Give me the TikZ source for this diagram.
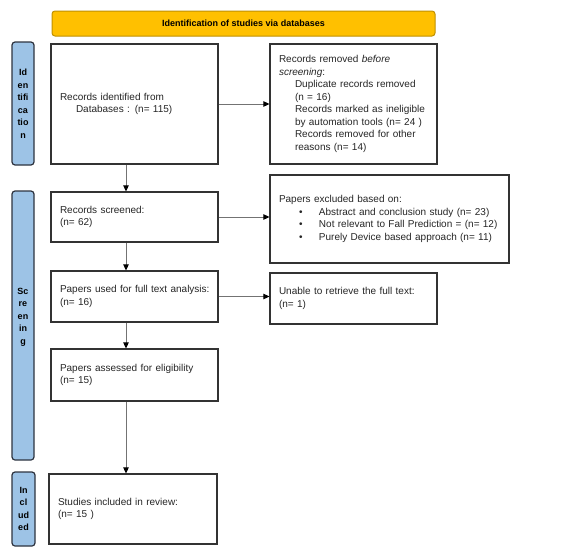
\documentclass[tikz,border=0pt]{standalone}
\usepackage{fontspec}
\setmainfont{Liberation Sans}
\usetikzlibrary{arrows.meta}
\definecolor{bannerfill}{HTML}{FFC000}
\definecolor{bannerdraw}{HTML}{BF9000}
\definecolor{sidefill}{HTML}{9DC3E6}
\definecolor{sidedraw}{HTML}{2E3440}
\definecolor{txt}{HTML}{262626}
\tikzset{
  box/.style={draw=black!80, line width=1.2pt, fill=white, inner xsep=9pt, inner ysep=2pt,
    align=left, text=txt, font=\fontsize{10}{12.5}\selectfont},
  sidebox/.style={draw=sidedraw, line width=1.2pt, fill=sidefill, rounded corners=3pt,
    align=center, inner sep=0pt, font=\fontsize{9}{12.5}\selectfont\bfseries, text=black},
  banner/.style={draw=bannerdraw, line width=1pt, fill=bannerfill, rounded corners=3pt,
    font=\fontsize{9}{11}\selectfont\bfseries, text=black},
  arr/.style={draw=black!55, line width=1pt, -{Triangle[length=6pt,width=5.5pt,color=black,fill=black]}}
}
\begin{document}
\begin{tikzpicture}[x=1pt,y=-1pt]
\useasboundingbox (0,0) rectangle (571,557);

\node[banner, minimum width=383pt, minimum height=25pt] (ban) at (243.5,23.5) {Identification of studies via databases};

\node[sidebox, minimum width=22pt, minimum height=123pt] (s1) at (23,103.5) {Id\\en\\tifi\\ca\\tio\\n};
\node[sidebox, minimum width=22pt, minimum height=269pt] (s2) at (23,325.5) {Sc\\re\\en\\in\\g\\[6pt]};
\node[sidebox, minimum width=23pt, minimum height=74pt] (s3) at (23.5,509) {In\\cl\\ud\\ed};

\node[box, minimum width=167pt, text width=149pt, minimum height=120pt] (b1) at (134.5,104)
  {Records identified from\\\hspace*{16pt}Databases : (n= 115)};
\node[box, minimum width=167pt, text width=149pt, minimum height=120pt] (r1) at (353.5,104)
  {Records removed \textit{before}\\\textit{screening}:\\
   \hspace*{16pt}Duplicate records removed\\
   \hspace*{16pt}(n = 16)\\
   \hspace*{16pt}Records marked as ineligible\\
   \hspace*{16pt}by automation tools (n= 24 )\\
   \hspace*{16pt}Records removed for other\\
   \hspace*{16pt}reasons (n= 14)\\[2pt]};

\node[box, minimum width=167pt, text width=149pt, minimum height=50pt] (b2) at (134.5,217)
  {Records screened:\\(n= 62)};
\node[box, minimum width=239pt, text width=221pt, minimum height=88pt] (r2) at (389.5,219)
  {Papers excluded based on:\\
   \hspace*{20pt}\makebox[20pt][l]{\textbullet}Abstract and conclusion study (n= 23)\\
   \hspace*{20pt}\makebox[20pt][l]{\textbullet}Not relevant to Fall Prediction = (n= 12)\\
   \hspace*{20pt}\makebox[20pt][l]{\textbullet}Purely Device based approach (n= 11)};

\node[box, minimum width=167pt, text width=149pt, minimum height=51pt] (b3) at (134.5,296.5)
  {\mbox{Papers used for full text analysis:}\\(n= 16)};
\node[box, minimum width=167pt, text width=149pt, minimum height=51pt] (r3) at (353.5,298.5)
  {Unable to retrieve the full text:\\(n= 1)};

\node[box, minimum width=167pt, text width=149pt, minimum height=52pt] (b4) at (134.5,375)
  {Papers assessed for eligibility\\(n= 15)};

\node[box, minimum width=168pt, text width=150pt, minimum height=70pt] (b5) at (133,509)
  {Studies included in review:\\(n= 15 )};

\draw[arr] (b1.east) -- (r1.west);
\draw[arr] (b2.east) -- (b2.east -| r2.west);
\draw[arr] (b3.east) -- (b3.east -| r3.west);
\draw[arr] ([xshift=-8.5pt]b1.south) -- ([xshift=-8.5pt]b1.south |- b2.north);
\draw[arr] ([xshift=-8.5pt]b2.south) -- ([xshift=-8.5pt]b2.south |- b3.north);
\draw[arr] ([xshift=-8.5pt]b3.south) -- ([xshift=-8.5pt]b3.south |- b4.north);
\draw[arr] ([xshift=-8.5pt]b4.south) -- ([xshift=-8.5pt]b4.south |- b5.north);
\end{tikzpicture}
\end{document}
